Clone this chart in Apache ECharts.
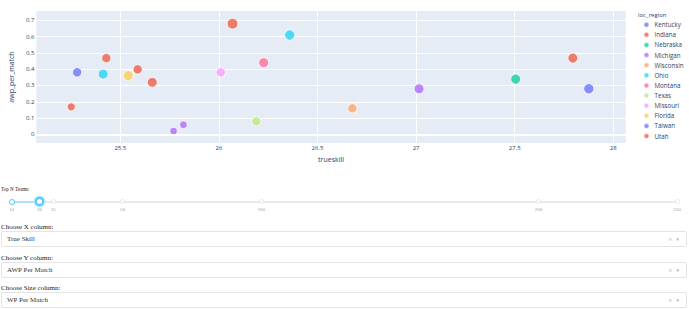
<!DOCTYPE html>
<html>
<head>
<meta charset="utf-8">
<script src="https://cdn.jsdelivr.net/npm/echarts@6/dist/echarts.min.js"></script>
<style>
  html, body { margin: 0; padding: 0; background: #fff; }
  body { width: 689px; height: 309px; position: relative; overflow: hidden; font-family: "Liberation Serif", "Times New Roman", serif; color: #222; }
  #chart { position: absolute; left: 0; top: 0; width: 689px; height: 172px; }
  .lbl { position: absolute; left: 1px; font-size: 7px; line-height: 8px; white-space: nowrap; color: #222; }
  .dd { position: absolute; left: 1px; width: 684px; height: 14px; border: 1px solid #e4e4e4; border-radius: 2px; background: #fff; box-sizing: content-box; }
  .dd .val { position: absolute; left: 5px; top: 3px; font-size: 7px; line-height: 8px; color: #333; }
  .dd .ctl { position: absolute; right: 3px; top: 3px; font-size: 5px; line-height: 8px; color: #aaa; font-family: "DejaVu Sans", sans-serif; letter-spacing: 4px; }
  #slider { position: absolute; left: 0; top: 195px; width: 689px; height: 20px; }
  .rail { position: absolute; height: 2px; background: #e9e9e9; border-radius: 1px; }
  .track { position: absolute; height: 2px; background: #abe2fb; border-radius: 1px; }
  .dot { position: absolute; width: 3px; height: 3px; border: 1px solid #e9e9e9; border-radius: 50%; background: #fff; }
  .dot.active { border-color: #96dbfa; }
  .handle { position: absolute; width: 5px; height: 5px; border: 2px solid #57c5f7; border-radius: 50%; background: #fff; box-shadow: 0 0 0 1.5px #b8e6fb; }
  .mark { position: absolute; font-size: 5px; line-height: 5px; color: #999; transform: translateX(-50%); white-space: nowrap; }
</style>
</head>
<body>
<div id="chart"></div>

<div class="lbl" style="top:184.5px;font-size:6.5px;line-height:7px;transform:scaleX(0.78);transform-origin:0 50%;">Top N Teams:</div>
<div id="slider"></div>

<div class="lbl" style="top:223px;">Choose X column:</div>
<div class="dd" style="top:231px;"><span class="val">True Skill</span><span class="ctl">×▾</span></div>
<div class="lbl" style="top:254px;">Choose Y column:</div>
<div class="dd" style="top:262px;"><span class="val">AWP Per Match</span><span class="ctl">×▾</span></div>
<div class="lbl" style="top:284px;">Choose Size column:</div>
<div class="dd" style="top:292px;"><span class="val">WP Per Match</span><span class="ctl">×▾</span></div>

<script>
// ---- data ----
const regions = ['Kentucky','Indiana','Nebraska','Michigan','Wisconsin','Ohio','Montana','Texas','Missouri','Florida','Taiwan','Utah'];
const regionColors = ['#636efa','#EF553B','#00cc96','#ab63fa','#FFA15A','#19d3f3','#FF6692','#B6E880','#FF97FF','#FECB52','#636efa','#EF553B'];

const teamRegion  = ['Kentucky','Indiana','Nebraska','Michigan','Michigan','Michigan','Wisconsin','Ohio','Ohio','Montana','Texas','Missouri','Florida','Taiwan','Utah','Utah','Indiana','Indiana','Indiana'];
const trueskill   = [25.281, 25.429, 27.505, 25.770, 25.820, 27.015, 26.677, 25.413, 26.359, 26.227, 26.189, 26.009, 25.540, 27.876, 25.251, 26.069, 25.588, 25.662, 27.795];
const awpPerMatch = [0.381, 0.468, 0.339, 0.020, 0.059, 0.280, 0.160, 0.370, 0.610, 0.440, 0.080, 0.381, 0.360, 0.280, 0.169, 0.679, 0.399, 0.319, 0.468];
const wpPerMatch  = [0.58, 0.55, 0.66, 0.38, 0.38, 0.66, 0.58, 0.63, 0.70, 0.63, 0.58, 0.58, 0.70, 0.70, 0.44, 0.75, 0.55, 0.63, 0.66];

const xTicks = [25.5, 26, 26.5, 27, 27.5, 28];
const yTicks = [0, 0.1, 0.2, 0.3, 0.4, 0.5, 0.6, 0.7];

const sliderMarks = [10, 20, 25, 50, 100, 200, 250];
const sliderMin = 10, sliderMax = 250, sliderValue = 20;

// ---- chart ----
const FONT = '"Open Sans", verdana, arial, sans-serif';
const TXT = '#2a3f5f';
const maxWp = Math.max.apply(null, wpPerMatch);

const series = regions.map((r, ri) => ({
  name: r,
  type: 'scatter',
  z: 3,
  data: teamRegion.map((tr, i) => tr === r ? [trueskill[i], awpPerMatch[i], wpPerMatch[i]] : null).filter(d => d),
  symbolSize: v => 10.7 * Math.sqrt(v[2] / maxWp),
  itemStyle: { color: regionColors[ri], opacity: 0.75, borderColor: '#ffffff', borderWidth: 1 },
  emphasis: { disabled: true }
}));
series.push({
  name: '_zero', type: 'scatter', z: 1, data: [], silent: true,
  markLine: { silent: true, symbol: 'none', label: { show: false }, animation: false,
    lineStyle: { color: '#ffffff', width: 2, type: 'solid' }, data: [{ yAxis: 0 }] }
});

const chart = echarts.init(document.getElementById('chart'), null, { renderer: 'svg' });
chart.setOption({
  animation: false,
  title: { text: 'loc_region', left: 638, top: 11.5, padding: 0,
    textStyle: { fontFamily: FONT, fontSize: 6, fontWeight: 'normal', color: TXT } },
  legend: {
    data: regions, orient: 'vertical', left: 642.5, top: 20.7, padding: 0,
    icon: 'circle', itemWidth: 6, itemHeight: 6, itemGap: 2.12,
    textStyle: { fontFamily: FONT, fontSize: 6.2, color: TXT, lineHeight: 6 },
    selectedMode: false
  },
  grid: { left: 35, right: 63.3, top: 11, bottom: 29, show: true, backgroundColor: '#E5ECF6', borderWidth: 0, containLabel: false },
  xAxis: {
    type: 'value', min: 25.074, max: 28.063,
    name: 'trueskill', nameLocation: 'middle', nameGap: 11,
    nameTextStyle: { fontFamily: FONT, fontSize: 7, color: TXT },
    axisLine: { show: false }, axisTick: { show: false, customValues: xTicks },
    axisLabel: { customValues: xTicks, fontFamily: FONT, fontSize: 6, color: TXT, margin: 2 },
    splitLine: { show: true, lineStyle: { color: '#ffffff', width: 1 } }
  },
  yAxis: {
    type: 'value', min: -0.053, max: 0.757,
    name: 'awp_per_match', nameLocation: 'middle', nameGap: 17, nameRotate: 90,
    nameTextStyle: { fontFamily: FONT, fontSize: 7, color: TXT },
    axisLine: { show: false }, axisTick: { show: false, customValues: yTicks },
    axisLabel: { customValues: yTicks, fontFamily: FONT, fontSize: 6, color: TXT, margin: 2 },
    splitLine: { show: true, lineStyle: { color: '#ffffff', width: 1 } }
  },
  series: series
});

// ---- slider (UI control) ----
(function () {
  const el = document.getElementById('slider');
  const x0 = 11.7, x1 = 677, cy = 6.7;
  const px = v => x0 + (v - sliderMin) / (sliderMax - sliderMin) * (x1 - x0);
  let h = '';
  h += `<div class="rail" style="left:${x0}px;width:${x1 - x0}px;top:${cy - 1}px"></div>`;
  h += `<div class="track" style="left:${x0}px;width:${px(sliderValue) - x0}px;top:${cy - 1}px"></div>`;
  sliderMarks.forEach(m => {
    const x = px(m);
    if (m !== sliderValue) {
      h += `<div class="dot ${m <= sliderValue ? 'active' : ''}" style="left:${x - 2.5}px;top:${cy - 2.5}px;${m === sliderMin ? 'width:4px;height:4px;border-color:#57c5f7;left:' + (x - 3) + 'px;top:' + (cy - 3) + 'px' : ''}"></div>`;
    }
    h += `<div class="mark" style="left:${x}px;top:${cy + 5}px">${m}</div>`;
  });
  const hx = px(sliderValue);
  h += `<div class="handle" style="left:${hx - 4.5}px;top:${cy - 4.5}px"></div>`;
  el.innerHTML = h;
})();
</script>
</body>
</html>
